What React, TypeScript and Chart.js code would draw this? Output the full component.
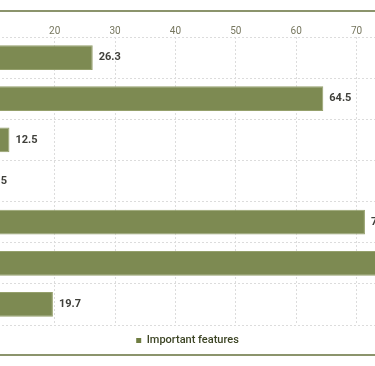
import React, { useEffect, useRef } from "react";
import { Chart, registerables } from "chart.js";

Chart.register(...registerables);

const categories = [
  "Feature A",
  "Feature B",
  "Feature C",
  "Feature D",
  "Feature E",
  "Feature F",
  "Feature G",
];
const importance = [26.3, 64.5, 12.5, 8.5, 71.4, 86.4, 19.7];
const seriesName = "Important features";
const xMin = 0;
const xMax = 100;
const xStep = 10;

const BAR = "#7d8a52";
const BAR_BORDER = "#95a06c";
const LEGEND_BOX = "#6f7d42";
const LINE = "#8b946c";

const valueLabels = {
  id: "valueLabels",
  afterDatasetsDraw(chart: any) {
    const ctx = chart.ctx;
    const meta = chart.getDatasetMeta(0);
    const data = chart.data.datasets[0].data;
    ctx.save();
    ctx.font = "bold 11px Roboto";
    ctx.fillStyle = "#3f3f3a";
    ctx.textAlign = "left";
    ctx.textBaseline = "middle";
    meta.data.forEach((el: any, i: number) => {
      ctx.fillText(String(data[i]), el.x + 6, el.y);
    });
    ctx.restore();
  },
};

export default function App() {
  const ref = useRef<HTMLCanvasElement | null>(null);
  useEffect(() => {
    if (!ref.current) return;
    const chart = new Chart(ref.current, {
      type: "bar",
      data: {
        labels: categories,
        datasets: [
          {
            label: seriesName,
            data: importance,
            backgroundColor: BAR,
            borderColor: BAR_BORDER,
            borderWidth: 1,
            categoryPercentage: 0.8,
            barPercentage: 0.75,
          },
        ],
      },
      options: {
        indexAxis: "y",
        animation: false,
        responsive: false,
        maintainAspectRatio: false,
        layout: { padding: { top: 13, right: 5, left: 0, bottom: 0 } },
        scales: {
          x: {
            position: "top",
            min: xMin,
            max: xMax,
            ticks: {
              stepSize: xStep,
              padding: 0,
              color: "#76765e",
              font: { family: "Roboto", size: 10 },
            },
            grid: {
              color: "#dcdcdc",
              drawTicks: false,
            },
            border: { display: false, dash: [2, 2] },
          },
          y: {
            afterFit(scale: any) {
              scale.width = 100;
            },
            ticks: {
              color: "#55554a",
              font: { family: "Roboto", size: 11 },
            },
            grid: {
              color: "#dcdcdc",
              drawTicks: false,
            },
            border: { display: false, dash: [2, 2] },
          },
        },
        plugins: {
          legend: {
            position: "bottom",
            labels: {
              boxWidth: 5,
              boxHeight: 5,
              padding: 10,
              color: "#3c4424",
              font: { family: "Roboto", size: 11, weight: "500" },
              generateLabels(chart: any) {
                return chart.data.datasets.map((ds: any, i: number) => ({
                  text: ds.label,
                  fillStyle: LEGEND_BOX,
                  strokeStyle: LEGEND_BOX,
                  lineWidth: 0,
                  hidden: false,
                  datasetIndex: i,
                  fontColor: "#3c4424",
                }));
              },
            },
          },
          tooltip: { enabled: false },
        },
      } as any,
      plugins: [valueLabels],
    });
    return () => chart.destroy();
  }, []);

  return (
    <div
      style={{
        position: "absolute",
        left: -166,
        top: 10,
        width: 712,
        height: 346,
      }}
    >
      <canvas
        ref={ref}
        width={712}
        height={344}
        style={{ display: "block", position: "absolute", left: 0, top: 2 }}
      />
      <div
        style={{
          position: "absolute",
          left: 0,
          top: 0,
          width: 712,
          height: 2,
          background: LINE,
        }}
      />
      <div
        style={{
          position: "absolute",
          left: 0,
          top: 344,
          width: 712,
          height: 2,
          background: LINE,
        }}
      />
    </div>
  );
}
